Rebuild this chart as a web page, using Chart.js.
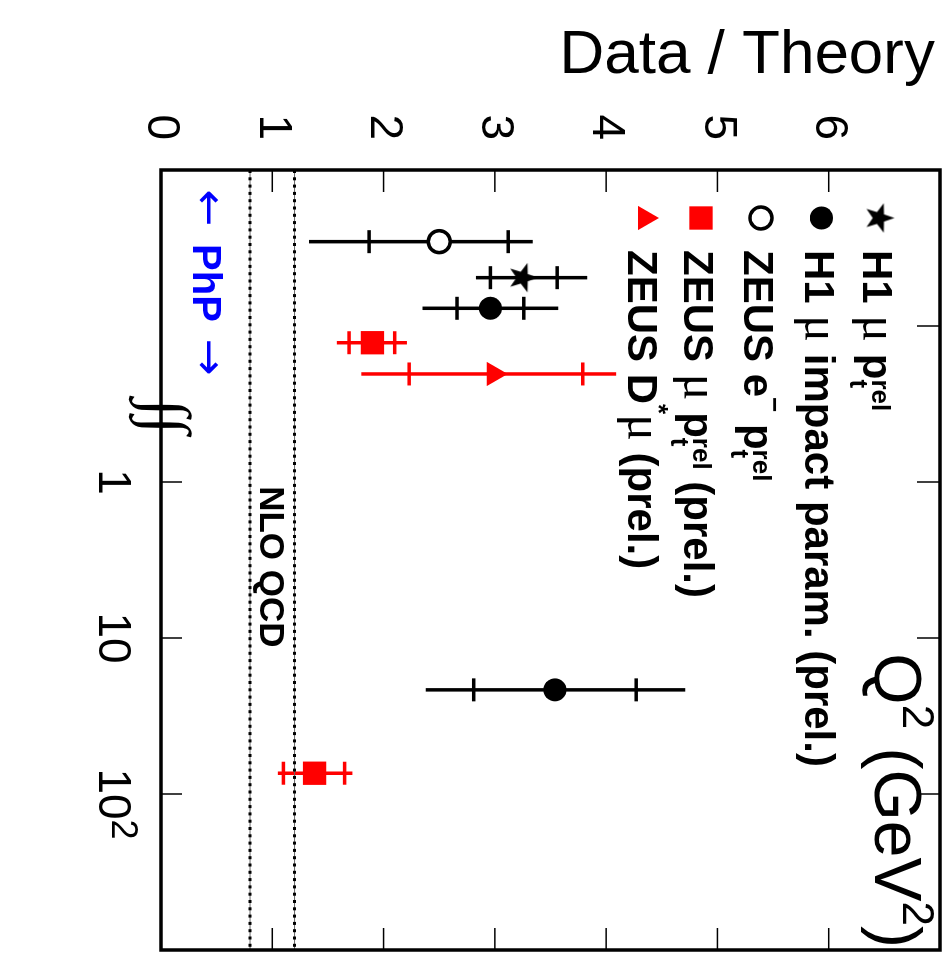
<!DOCTYPE html>
<html>
<head>
<meta charset="utf-8">
<title>Data / Theory vs Q2</title>
<script src="https://cdn.jsdelivr.net/npm/chart.js@4.4.1/dist/chart.umd.min.js"></script>
<style>
  html, body { margin: 0; padding: 0; background: #fff; overflow: hidden; }
  /* chart is laid out unrotated, then turned a quarter turn clockwise */
  #wrap { position: absolute; left: 0; top: 0; width: 955px; height: 950px;
          transform-origin: 0 0; transform: translate(950px, 0) rotate(90deg); }
</style>
</head>
<body>
<div id="wrap"><canvas id="chart" width="955" height="950"></canvas></div>
<script>
// Q2 axis ticks (PhP points sit left of the break at ~0.3)
const q2TickValues = [0.1, 1, 10, 100];
const q2TickLabels = ['', '1', '10', '10'];
const q2TickSups = ['', '', '', '2'];
const q2BottomTicks = [1, 10, 100];
const q2TopTicks = [0.1, 1, 10, 100];
const ratioTickValues = [0, 1, 2, 3, 4, 5, 6];
const ratioInnerTicks = [1, 2, 3, 4, 5, 6];

// NLO QCD uncertainty band
const nloBand = [0.8, 1.2];

// H1 mu ptrel
const h1PtrelQ2 = [0.049];
const h1PtrelRatio = [3.26];
const h1PtrelStat = [[0.30, 0.30]];
const h1PtrelTot = [[0.43, 0.57]];

// H1 mu impact param. (prel.)
const h1IpQ2 = [0.077, 21.5];
const h1IpRatio = [2.96, 3.54];
const h1IpStat = [[0.30, 0.30], [0.73, 0.73]];
const h1IpTot = [[0.61, 0.61], [1.16, 1.17]];

// ZEUS e- ptrel
const zeusEQ2 = [0.0288];
const zeusERatio = [2.50];
const zeusEStat = [[0.63, 0.62]];
const zeusETot = [[1.17, 0.84]];

// ZEUS mu ptrel (prel.)
const zeusMuQ2 = [0.128, 73.6];
const zeusMuRatio = [1.90, 1.38];
const zeusMuStat = [[0.21, 0.20], [0.28, 0.27]];
const zeusMuTot = [[0.32, 0.31], [0.33, 0.34]];

// ZEUS D* mu (prel.)
const zeusDstQ2 = [0.203];
const zeusDstRatio = [2.99];
const zeusDstStat = [[0.76, 0.80]];
const zeusDstTot = [[1.19, 1.10]];

const SANS = '"Liberation Sans", Arial, sans-serif';
const SERIF = '"Liberation Serif", "Times New Roman", serif';
const ARROWS = '"DejaVu Sans", sans-serif';
const RED = '#ff0000';
const BLUE = '#0000ff';

// filled five point star used as a point style
function makeStar(r) {
    const c = document.createElement('canvas');
    const s = Math.ceil(r * 2 + 2);
    c.width = s; c.height = s;
    const g = c.getContext('2d');
    g.translate(s / 2, s / 2 + 1);
    g.beginPath();
    for (let i = 0; i < 10; i++) {
        const rr = i % 2 ? r * 0.4 : r;
        const a = -Math.PI / 2 + i * Math.PI / 5;
        g.lineTo(rr * Math.cos(a), rr * Math.sin(a));
    }
    g.closePath();
    g.fillStyle = '#000';
    g.fill();
    return c;
}
const starImg = makeStar(15.5);

function pts(q2, ratio) {
    return q2.map((q, i) => ({ x: q, y: ratio[i] }));
}

function pointSet(q2, ratio, stat, tot, color, style, radius, fill, bw) {
    return {
        data: pts(q2, ratio), errStat: stat, errTot: tot, barColor: color,
        pointStyle: style, pointRadius: radius, backgroundColor: fill,
        borderColor: color, pointBorderWidth: bw, showLine: false, order: 0
    };
}

const pointSets = [
    pointSet(h1PtrelQ2, h1PtrelRatio, h1PtrelStat, h1PtrelTot, '#000', starImg, 15, '#000', 0),
    pointSet(h1IpQ2, h1IpRatio, h1IpStat, h1IpTot, '#000', 'circle', 11.5, '#000', 0),
    pointSet(zeusEQ2, zeusERatio, zeusEStat, zeusETot, '#000', 'circle', 11, '#fff', 3.5),
    pointSet(zeusMuQ2, zeusMuRatio, zeusMuStat, zeusMuTot, RED, 'rect', 16.5, RED, 0),
    pointSet(zeusDstQ2, zeusDstRatio, zeusDstStat, zeusDstTot, RED, 'triangle', 14, RED, 0)
];

// dotted band edges with a thin line under the dots
const bandSets = [];
nloBand.forEach(v => {
    const line = [{ x: 0.01, y: v }, { x: 1000, y: v }];
    bandSets.push({ type: 'line', data: line, borderColor: '#666', borderWidth: 1, pointRadius: 0, order: 5 });
    bandSets.push({ type: 'line', data: line, borderColor: '#000', borderWidth: 3, borderDash: [3, 4.3], pointRadius: 0, order: 4 });
});

// legend rows, rich text pieces
const B = t => ({ text: t, font: `bold 42px ${SANS}` });
const MU = { text: 'μ', font: `50px ${SERIF}` };
const PT = { sub: 't', sup: 'rel', font: `bold 26px ${SANS}`, subDy: 13, supDy: -9 };
const SUP = t => ({ sup: t, font: `bold 26px ${SANS}`, supDy: -22 });
const legendRows = [
    [B('H1 '), MU, B(' p'), PT],
    [B('H1 '), MU, B(' impact param. (prel.)')],
    [B('ZEUS e'), SUP('−'), B(' p'), PT],
    [B('ZEUS '), MU, B(' p'), PT, B(' (prel.)')],
    [B('ZEUS D'), SUP('*'), MU, B(' (prel.)')]
];
const legendRowY = [70, 128.5, 189, 249, 305];

function drawRich(ctx, parts, x, y) {
    parts.forEach(p => {
        ctx.font = p.font;
        if (p.sub || p.sup) {
            let w = 0;
            if (p.sub) { ctx.fillText(p.sub, x, y + p.subDy); w = Math.max(w, ctx.measureText(p.sub).width); }
            if (p.sup) { ctx.fillText(p.sup, x, y + p.supDy); w = Math.max(w, ctx.measureText(p.sup).width); }
            x += w;
        } else {
            ctx.fillText(p.text, x, y);
            x += ctx.measureText(p.text).width;
        }
    });
    return x;
}

function richWidth(ctx, parts) {
    let w = 0;
    parts.forEach(p => {
        ctx.font = p.font;
        if (p.sub || p.sup) {
            w += Math.max(p.sub ? ctx.measureText(p.sub).width : 0, p.sup ? ctx.measureText(p.sup).width : 0);
        } else {
            w += ctx.measureText(p.text).width;
        }
    });
    return w;
}

function line(ctx, x1, y1, x2, y2) {
    ctx.beginPath();
    ctx.moveTo(x1, y1);
    ctx.lineTo(x2, y2);
    ctx.stroke();
}

// stat ticks and total error lines
const errorBars = {
    id: 'errorBars',
    beforeDatasetsDraw(chart) {
        const ctx = chart.ctx;
        const ys = chart.scales.y;
        chart.data.datasets.forEach((ds, i) => {
            if (!ds.errTot) return;
            const meta = chart.getDatasetMeta(i);
            ctx.save();
            ctx.strokeStyle = ds.barColor;
            ctx.lineWidth = 3.5;
            meta.data.forEach((pt, j) => {
                const v = ds.data[j].y;
                line(ctx, pt.x, ys.getPixelForValue(v - ds.errTot[j][0]), pt.x, ys.getPixelForValue(v + ds.errTot[j][1]));
                [v - ds.errStat[j][0], v + ds.errStat[j][1]].forEach(s => {
                    const y = ys.getPixelForValue(s);
                    line(ctx, pt.x - 11.5, y, pt.x + 11.5, y);
                });
            });
            ctx.restore();
        });
    }
};

// frame, inner ticks, titles, legend and labels
const decorations = {
    id: 'decorations',
    afterDraw(chart) {
        const ctx = chart.ctx;
        const a = chart.chartArea;
        const xs = chart.scales.x;
        const ys = chart.scales.y;
        ctx.save();
        ctx.strokeStyle = '#000';
        ctx.lineWidth = 1.5;
        ratioInnerTicks.forEach(v => {
            const y = ys.getPixelForValue(v);
            line(ctx, a.left, y, a.left + 22, y);
            line(ctx, a.right - 22, y, a.right, y);
        });
        q2BottomTicks.forEach(v => {
            const x = xs.getPixelForValue(v);
            line(ctx, x, a.bottom, x, a.bottom - 21);
        });
        q2TopTicks.forEach(v => {
            const x = xs.getPixelForValue(v);
            line(ctx, x, a.top, x, a.top + 23);
        });
        ctx.lineWidth = 3.5;
        ctx.strokeRect(a.left, a.top, a.right - a.left, a.bottom - a.top);

        ctx.fillStyle = '#000';
        ctx.textBaseline = 'alphabetic';
        // superscript of the 10^2 tick label
        ctx.font = `46px ${SANS}`;
        q2TickValues.forEach((v, i) => {
            if (!q2TickSups[i]) return;
            const w = ctx.measureText(q2TickLabels[i]).width;
            const x = xs.getPixelForValue(v) + w / 2;
            ctx.font = `36px ${SANS}`;
            ctx.fillText(q2TickSups[i], x, a.bottom + 49);
            ctx.font = `46px ${SANS}`;
        });

        // axis titles
        ctx.save();
        ctx.translate(73, 15);
        ctx.rotate(-Math.PI / 2);
        ctx.font = `62px ${SANS}`;
        ctx.textAlign = 'right';
        ctx.fillText('Data / Theory', 0, 0);
        ctx.restore();

        const q2Title = [
            { text: 'Q', font: `66px ${SANS}` },
            { sup: '2', font: `44px ${SANS}`, supDy: -28 },
            { text: ' (GeV', font: `66px ${SANS}` },
            { sup: '2', font: `44px ${SANS}`, supDy: -28 },
            { text: ')', font: `66px ${SANS}` }
        ];
        ctx.textAlign = 'left';
        drawRich(ctx, q2Title, a.right - 2 - richWidth(ctx, q2Title), 75);

        // NLO QCD label inside the band
        ctx.font = `bold 35px ${SANS}`;
        ctx.textAlign = 'center';
        ctx.fillText('NLO QCD', xs.getPixelForValue(3.5), ys.getPixelForValue(1.0) + 12.5);

        // photoproduction marker
        ctx.fillStyle = BLUE;
        ctx.font = `bold 40px ${SANS}`;
        ctx.fillText('PhP', 283, 757);
        ctx.font = `44px ${ARROWS}`;
        ctx.textBaseline = 'middle';
        ctx.fillText('←', 208, 744);
        ctx.fillText('→', 357, 744);

        // axis break
        ctx.fillStyle = '#000';
        ctx.font = `64px ${SERIF}`;
        ctx.fillText('∫∫', xs.getPixelForValue(0.38), a.bottom - 2);

        // legend
        ctx.textBaseline = 'alphabetic';
        ctx.textAlign = 'left';
        pointSets.forEach((ds, i) => {
            const y = legendRowY[i];
            ctx.fillStyle = ds.backgroundColor;
            ctx.strokeStyle = ds.borderColor;
            ctx.lineWidth = ds.pointBorderWidth;
            Chart.helpers.drawPoint(ctx, {
                pointStyle: ds.pointStyle, radius: ds.pointRadius,
                borderWidth: ds.pointBorderWidth, rotation: 0
            }, 218, y);
            ctx.fillStyle = '#000';
            drawRich(ctx, legendRows[i], 250, y + 16.5);
        });
        ctx.restore();
    }
};

// keep label overhang from shrinking the plot frame
function noPad(s) {
    s.paddingTop = 0; s.paddingBottom = 0; s.paddingLeft = 0; s.paddingRight = 0;
}

new Chart(document.getElementById('chart'), {
    type: 'scatter',
    data: { datasets: [...pointSets, ...bandSets] },
    options: {
        responsive: false,
        animation: false,
        events: [],
        layout: { autoPadding: false, padding: { left: 0, right: 5, top: 10, bottom: 0 } },
        plugins: { legend: { display: false }, tooltip: { enabled: false } },
        scales: {
            x: {
                type: 'logarithmic', min: 0.01, max: 1000, position: 'bottom',
                grid: { display: false, drawTicks: false }, border: { display: false },
                afterBuildTicks: s => { s.ticks = q2TickValues.map(v => ({ value: v })); },
                afterFit: s => { s.height = 161; noPad(s); },
                ticks: {
                    autoSkip: false, maxRotation: 0, minRotation: 0, padding: 22, color: '#000',
                    font: { family: SANS, size: 46 },
                    callback: (v, i) => q2TickLabels[i]
                }
            },
            y: {
                type: 'linear', min: 0, max: 7,
                grid: { display: false, drawTicks: false }, border: { display: false },
                afterBuildTicks: s => { s.ticks = ratioTickValues.map(v => ({ value: v })); },
                afterFit: s => { s.width = 170; noPad(s); },
                ticks: {
                    padding: 30, color: '#000',
                    font: { family: SANS, size: 46 },
                    callback: v => String(v)
                }
            }
        }
    },
    plugins: [errorBars, decorations]
});
</script>
</body>
</html>
